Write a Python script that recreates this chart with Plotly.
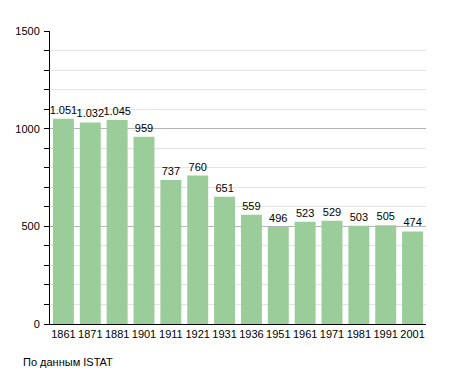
import plotly.graph_objects as go

years = ["1861", "1871", "1881", "1901", "1911", "1921", "1931", "1936",
         "1951", "1961", "1971", "1981", "1991", "2001"]
population = [1051, 1032, 1045, 959, 737, 760, 651, 559, 496, 523, 529, 503, 505, 474]
labels = [f"{v:,}".replace(",", ".") for v in population]

# page body has an 8px margin; figure is sized to fit the 455x373 window
W, H = 447, 365
L, T, R, B = 42, 23, 29, 49

fig = go.Figure(go.Bar(
    x=years, y=population, text=labels, textposition="outside",
    textangle=0, constraintext="none",
    textfont=dict(family="Liberation Sans, Arial", size=11, color="black"),
    marker=dict(color="#9ACD99", line=dict(width=0)),
    cliponaxis=False,
))

fig.update_layout(
    width=W, height=H,
    margin=dict(l=L, r=R, t=T, b=B, autoexpand=False),
    paper_bgcolor="white", plot_bgcolor="white",
    bargap=0.22,
    showlegend=False,
    font=dict(family="Liberation Sans, Arial", size=11, color="black"),
    xaxis=dict(type="category", showline=True, linecolor="black", linewidth=1,
               ticks="", tickfont=dict(size=11), showgrid=False, automargin=False),
    yaxis=dict(range=[0, 1500], dtick=500, showline=True, linecolor="black", linewidth=1,
               ticks="outside", ticklen=5, tickcolor="black", automargin=False,
               ticklabelstandoff=2,
               showgrid=True, gridcolor="#b4b4b4", gridwidth=1,
               zeroline=False, tickfont=dict(size=11),
               minor=dict(dtick=100, ticks="outside", ticklen=5, tickcolor="black",
                          showgrid=True, gridcolor="#e4e4e4", gridwidth=1)),
)
plot_w = W - L - R
plot_h = H - T - B
fig.add_annotation(text="По данным ISTAT", xref="paper", yref="paper",
                   x=(13 - L) / plot_w, y=-(354 - (H - B)) / plot_h,
                   showarrow=False, xanchor="left", yanchor="middle",
                   font=dict(size=11))

fig.write_html("out.html")
